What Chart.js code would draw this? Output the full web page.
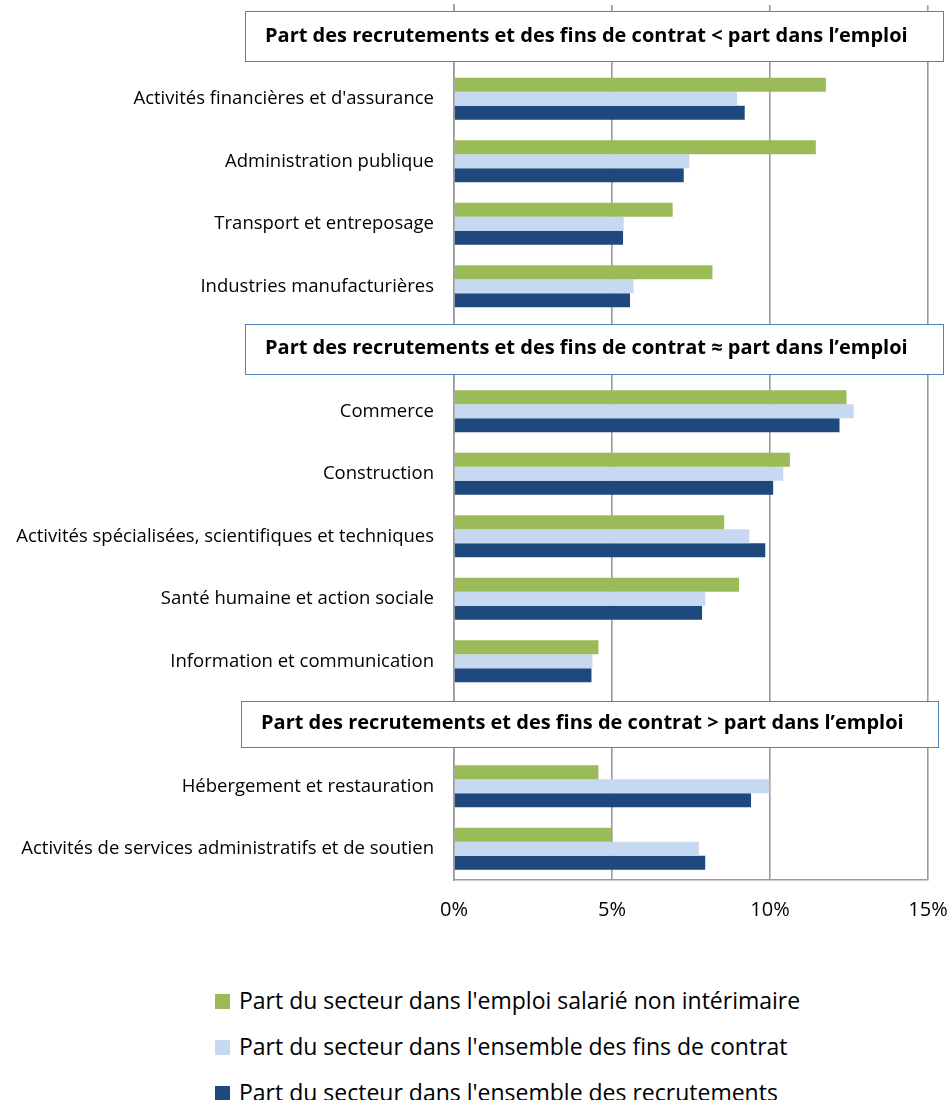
<!DOCTYPE html>
<html lang="fr">
<head>
<meta charset="utf-8">
<script src="https://cdn.jsdelivr.net/npm/chart.js@4.4.1/dist/chart.umd.min.js"></script>
<style>
  html, body { margin: 0; padding: 0; background: #fff; }
  body { width: 952px; height: 1100px; position: relative; font-family: "Open Sans", sans-serif; }
  #wrap { position: absolute; left: 0; top: 0; width: 952px; height: 940px; }
  .legend { position: absolute; left: 215px; font-size: 23px; color: #000; line-height: 26px; white-space: nowrap; }
  .legend span.sw { display: inline-block; width: 15px; height: 15px; margin-right: 9px; vertical-align: 0px; }
</style>
</head>
<body>
<div id="wrap"><canvas id="chart"></canvas></div>
<div class="legend" style="top:987px"><span class="sw" style="background:#9bbb59"></span>Part du secteur dans l'emploi salarié non intérimaire</div>
<div class="legend" style="top:1033px"><span class="sw" style="background:#c6d9f1"></span>Part du secteur dans l'ensemble des fins de contrat</div>
<div class="legend" style="top:1079px"><span class="sw" style="background:#1f497d"></span>Part du secteur dans l'ensemble des recrutements</div>
<script>
(function () {
  'use strict';

  var groupTitles = [
    'Part des recrutements et des fins de contrat < part dans l\u2019emploi',
    'Part des recrutements et des fins de contrat \u2248 part dans l\u2019emploi',
    'Part des recrutements et des fins de contrat > part dans l\u2019emploi'
  ];
  var groupSizes = [4, 5, 2];

  var sectors = [
    'Activités financières et d\'assurance',
    'Administration publique',
    'Transport et entreposage',
    'Industries manufacturières',
    'Commerce',
    'Construction',
    'Activités spécialisées, scientifiques et techniques',
    'Santé humaine et action sociale',
    'Information et communication',
    'Hébergement et restauration',
    'Activités de services administratifs et de soutien'
  ];

  var seriesNames = [
    'Part du secteur dans l\'emploi salarié non intérimaire',
    'Part du secteur dans l\'ensemble des fins de contrat',
    'Part du secteur dans l\'ensemble des recrutements'
  ];

  var emploi = [11.77, 11.45, 6.92, 8.18, 12.42, 10.63, 8.55, 9.02, 4.57, 4.57, 4.97];
  var finsContrat = [8.96, 7.45, 5.37, 5.68, 12.65, 10.42, 9.35, 7.95, 4.38, 9.98, 7.75];
  var recrutements = [9.2, 7.27, 5.35, 5.57, 12.2, 10.1, 9.85, 7.85, 4.35, 9.4, 7.95];

  var xTicks = [0, 5, 10, 15];

  // une ligne vide par groupe pour y poser le cadre du titre
  var labels = [], headerRows = [];
  function withGaps(values) {
    var out = [], k = 0;
    groupSizes.forEach(function (n) {
      out.push(null);
      for (var i = 0; i < n; i++) out.push(values[k++]);
    });
    return out;
  }
  var k = 0;
  groupSizes.forEach(function (n) {
    headerRows.push(labels.length);
    labels.push('');
    for (var i = 0; i < n; i++) labels.push(sectors[k++]);
  });

  var FONT = '"Open Sans", sans-serif';

  var groupBoxes = {
    id: 'groupBoxes',
    afterDatasetsDraw: function (chart) {
      var ctx = chart.ctx;
      var y = chart.scales.y;
      var boxes = [[245, 943, 50], [245, 943, 50], [241, 938, 46]];
      ctx.save();
      headerRows.forEach(function (row, i) {
        var cy = y.getPixelForValue(row);
        var b = boxes[i];
        var top = Math.round(cy - b[2] / 2) + 0.5;
        ctx.fillStyle = '#fff';
        ctx.fillRect(b[0], top, b[1] - b[0], b[2]);
        ctx.strokeStyle = '#4f81bd';
        ctx.lineWidth = 1;
        ctx.strokeRect(b[0] + 0.5, top, b[1] - b[0], b[2]);
        ctx.fillStyle = '#000';
        ctx.font = 'bold 20px ' + FONT;
        ctx.textAlign = 'left';
        ctx.textBaseline = 'middle';
        ctx.fillText(groupTitles[i], b[0] + 20, cy);
      });
      ctx.restore();
    }
  };

  function noPad(scale) {
    scale.paddingLeft = 0;
    scale.paddingRight = 0;
    scale.paddingTop = 0;
    scale.paddingBottom = 0;
  }

  var colors = ['#9bbb59', '#c6d9f1', '#1f497d'];
  var values = [emploi, finsContrat, recrutements];

  new Chart(document.getElementById('chart'), {
    type: 'bar',
    plugins: [groupBoxes],
    data: {
      labels: labels,
      datasets: values.map(function (v, i) {
        return {
          label: seriesNames[i],
          data: withGaps(v),
          backgroundColor: colors[i],
          borderWidth: 0,
          barPercentage: 1,
          categoryPercentage: 0.672
        };
      })
    },
    options: {
      indexAxis: 'y',
      responsive: true,
      maintainAspectRatio: false,
      animation: false,
      layout: { padding: { top: 5, right: 24, left: 0, bottom: 0 } },
      plugins: { legend: { display: false }, tooltip: { enabled: false } },
      scales: {
        x: {
          min: 0,
          max: 15,
          afterBuildTicks: function (scale) {
            scale.ticks = xTicks.map(function (v) { return { value: v }; });
          },
          afterFit: function (scale) { scale.height = 60; noPad(scale); },
          grid: { color: '#9a9a9a', lineWidth: 1.6, drawTicks: false },
          border: { color: '#9a9a9a', width: 1.6 },
          ticks: {
            padding: 18,
            color: '#000',
            font: { family: FONT, size: 20 },
            callback: function (v) { return v + '%'; }
          }
        },
        y: {
          afterFit: function (scale) { scale.width = 454; noPad(scale); },
          grid: { display: false, drawTicks: false },
          border: { color: '#9a9a9a', width: 1.6 },
          ticks: {
            padding: 20,
            color: '#000',
            autoSkip: false,
            font: { family: FONT, size: 18.5 }
          }
        }
      }
    }
  });
})();
</script>
</body>
</html>
